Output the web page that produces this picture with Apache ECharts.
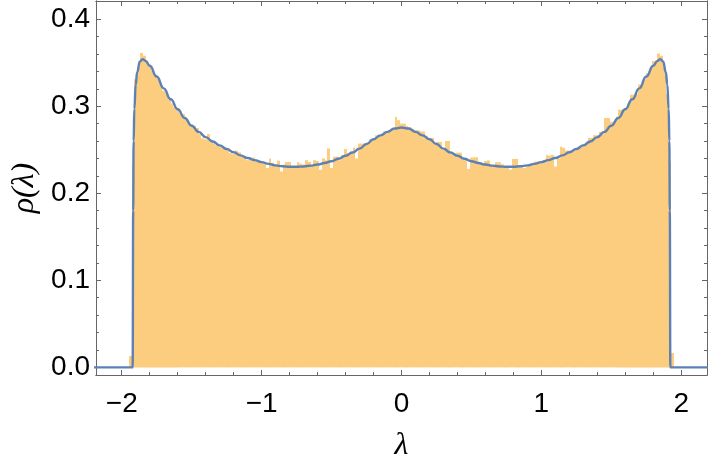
<!DOCTYPE html>
<html>
<head>
<meta charset="utf-8">
<script src="https://cdn.jsdelivr.net/npm/echarts@6.0.0/dist/echarts.min.js"></script>
<style>html,body{margin:0;padding:0;background:#fff}#c{width:710px;height:467px}</style>
</head>
<body>
<div id="c"></div>
<script>
// ---- data ----
const binStart = -1.95;
const binWidth = 0.02;
const histValues = [
  0.013, 0.235, 0.331, 0.345, 0.361, 0.358, 0.351, 0.348, 0.341, 0.336,
  0.332, 0.324, 0.318, 0.316, 0.307, 0.303, 0.299, 0.298, 0.292, 0.291,
  0.284, 0.281, 0.279, 0.277, 0.275, 0.268, 0.263, 0.262, 0.268, 0.259,
  0.257, 0.255, 0.254, 0.254, 0.251, 0.249, 0.246, 0.245, 0.249, 0.247,
  0.244, 0.242, 0.238, 0.241, 0.241, 0.237, 0.236, 0.236, 0.235, 0.229,
  0.240, 0.235, 0.233, 0.2375, 0.225, 0.233, 0.236, 0.236, 0.231, 0.229,
  0.2355, 0.234, 0.233, 0.238, 0.236, 0.231, 0.238, 0.237, 0.227, 0.240,
  0.238, 0.2515, 0.229, 0.242, 0.242, 0.238, 0.244, 0.2507, 0.246, 0.248,
  0.2526, 0.240, 0.257, 0.257, 0.256, 0.258, 0.262, 0.262, 0.2666, 0.2666,
  0.266, 0.271, 0.271, 0.272, 0.274, 0.2875, 0.284,
  0.280,
  0.280, 0.2773, 0.276, 0.274, 0.2723, 0.2723, 0.271, 0.271, 0.266, 0.2636,
  0.2636, 0.257, 0.259, 0.259, 0.250, 0.260, 0.260, 0.245, 0.246, 0.2466,
  0.2466, 0.239, 0.240, 0.228, 0.241, 0.2413, 0.2413, 0.235, 0.234, 0.237,
  0.2377, 0.233, 0.232, 0.2356, 0.2356, 0.2333, 0.229, 0.230, 0.227, 0.2394,
  0.2394, 0.230, 0.231, 0.229, 0.231, 0.232, 0.234, 0.2363, 0.2363, 0.236,
  0.238, 0.2439, 0.2432, 0.2439, 0.2307, 0.240, 0.2534, 0.2523, 0.249, 0.249,
  0.249, 0.2495, 0.252, 0.253, 0.256, 0.258, 0.2636, 0.2636, 0.2667, 0.2667,
  0.2705, 0.2705, 0.2864, 0.2864, 0.282, 0.282, 0.288, 0.2958, 0.2958, 0.298,
  0.303, 0.313, 0.313, 0.314, 0.325, 0.325, 0.331, 0.338, 0.343, 0.352,
  0.350, 0.3606, 0.358, 0.345, 0.314, 0.236, 0.0166
];
const curveX = [-2.33, -1.922, -1.918, -1.915, -1.91, -1.90, -1.89, -1.87, -1.85, -1.83, -1.80,
  -1.75, -1.70, -1.65, -1.60, -1.55, -1.50, -1.45, -1.40, -1.35, -1.30, -1.25, -1.20, -1.15, -1.10, -1.05, -1.00,
  -0.95, -0.90, -0.85, -0.80, -0.75, -0.70, -0.65, -0.60, -0.55, -0.50, -0.45, -0.40, -0.35, -0.30, -0.25, -0.20, -0.15, -0.10, -0.05,
  0,
  0.05, 0.10, 0.15, 0.20, 0.25, 0.30, 0.35, 0.40, 0.45, 0.50, 0.55, 0.60, 0.65, 0.70, 0.75, 0.80, 0.85, 0.90, 0.95,
  1.00, 1.05, 1.10, 1.15, 1.20, 1.25, 1.30, 1.35, 1.40, 1.45, 1.50, 1.55, 1.60, 1.65, 1.70, 1.75,
  1.80, 1.83, 1.85, 1.87, 1.89, 1.90, 1.91, 1.915, 1.918, 1.922, 2.19];
const curveY = [0, 0, 0.18, 0.26, 0.297, 0.325, 0.339, 0.3515, 0.354, 0.352, 0.3465,
  0.334, 0.3205, 0.308, 0.2965, 0.2865, 0.2775, 0.2705, 0.2645, 0.2595, 0.255, 0.2508, 0.247, 0.2435, 0.2405, 0.238, 0.2358,
  0.2337, 0.232, 0.231, 0.2305, 0.2304, 0.2308, 0.2317, 0.233, 0.2347, 0.2368, 0.2396, 0.243, 0.2468, 0.2512, 0.2565, 0.262, 0.2665, 0.2705, 0.2743,
  0.2755,
  0.2743, 0.2705, 0.2665, 0.262, 0.2565, 0.2512, 0.2468, 0.243, 0.2396, 0.2368, 0.2347, 0.233, 0.2317, 0.2308, 0.2304, 0.2305, 0.231, 0.232, 0.2337,
  0.2358, 0.238, 0.2405, 0.2435, 0.247, 0.2508, 0.255, 0.2595, 0.2645, 0.2705, 0.2775, 0.2865, 0.2965, 0.308, 0.3205, 0.334,
  0.3465, 0.352, 0.354, 0.3515, 0.339, 0.325, 0.297, 0.26, 0.18, 0, 0];
const xMajorTicks = [-2, -1, 0, 1, 2];
const xMinorTicks = [-2, -1.8, -1.6, -1.4, -1.2, -1, -0.8, -0.6, -0.4, -0.2, 0, 0.2, 0.4, 0.6, 0.8, 1, 1.2, 1.4, 1.6, 1.8, 2];
const yMajorTicks = [0, 0.1, 0.2, 0.3, 0.4];
const yMinorTicks = [0, 0.02, 0.04, 0.06, 0.08, 0.1, 0.12, 0.14, 0.16, 0.18, 0.2, 0.22, 0.24, 0.26, 0.28, 0.3, 0.32, 0.34, 0.36, 0.38, 0.4];

// ---- build ----
const histData = histValues.map((v, i) => [binStart + binWidth * (i + 0.5), v]);
const curveData = curveX.map((x, i) => [x, curveY[i]]);

const X_MIN = -2.184, X_MAX = 2.184, Y_MIN = -0.00875, Y_MAX = 0.4208;
const frameColor = '#666666';
const font = 'Liberation Sans, Arial, sans-serif';

function xAx(position, ticks, len, showLabel, extra) {
  return Object.assign({
    type: 'value', min: X_MIN, max: X_MAX, position: position,
    axisLine: { show: true, onZero: false, lineStyle: { color: frameColor, width: 1 } },
    axisTick: { show: true, inside: true, length: len, customValues: ticks, lineStyle: { color: frameColor, width: 1 } },
    axisLabel: showLabel ? {
      show: true, customValues: ticks, fontSize: 28, color: '#000', fontFamily: font, margin: 15,
      formatter: v => (v < 0 ? '\u2212' + Math.abs(v) : String(v))
    } : { show: false },
    splitLine: { show: false }
  }, extra || {});
}
function yAx(position, ticks, len, showLabel, extra) {
  return Object.assign({
    type: 'value', min: Y_MIN, max: Y_MAX, position: position,
    axisLine: { show: true, onZero: false, lineStyle: { color: frameColor, width: 1 } },
    axisTick: { show: true, inside: true, length: len, customValues: ticks, lineStyle: { color: frameColor, width: 1 } },
    axisLabel: showLabel ? {
      show: true, customValues: ticks, fontSize: 28, color: '#000', fontFamily: font, margin: 6,
      formatter: v => v.toFixed(1)
    } : { show: false },
    splitLine: { show: false }
  }, extra || {});
}

const chart = echarts.init(document.getElementById('c'), null, { renderer: 'canvas' });
chart.setOption({
  animation: false,
  backgroundColor: '#fff',
  grid: { left: 96, right: 3, top: 1, bottom: 88, containLabel: false },
  xAxis: [
    xAx('bottom', xMajorTicks, 5, true, {
      name: '\u03bb', nameLocation: 'middle', nameGap: 55,
      nameTextStyle: { fontSize: 32, fontStyle: 'italic', fontFamily: 'Liberation Serif, serif', color: '#000' }
    }),
    xAx('bottom', xMinorTicks, 3, false),
    xAx('top', xMajorTicks, 5, false),
    xAx('top', xMinorTicks, 3, false)
  ],
  yAxis: [
    yAx('left', yMajorTicks, 5, true, {
      name: '\u03c1(\u03bb)', nameLocation: 'middle', nameGap: 53, nameRotate: 90,
      nameTextStyle: { fontSize: 32, fontStyle: 'italic', fontFamily: 'Liberation Serif, serif', color: '#000' }
    }),
    yAx('left', yMinorTicks, 3, false),
    yAx('right', yMajorTicks, 5, false),
    yAx('right', yMinorTicks, 3, false)
  ],
  series: [
    {
      type: 'custom', xAxisIndex: 0, yAxisIndex: 0, data: histData,
      renderItem: function (params, api) {
        const c = api.value(0), h = api.value(1);
        const p0 = api.coord([c - binWidth / 2, 0]);
        const p1 = api.coord([c + binWidth / 2, h]);
        const x0 = Math.round(p0[0]), x1 = Math.round(p1[0]);
        return {
          type: 'rect',
          shape: { x: x0, y: p1[1], width: Math.max(1, x1 - x0), height: p0[1] - p1[1] },
          style: { fill: '#FCCD7E' }
        };
      },
      clip: true
    },
    {
      type: 'line', xAxisIndex: 0, yAxisIndex: 0, data: curveData, z: 5,
      showSymbol: false, symbol: 'none', smooth: true, smoothMonotone: 'x', clip: false,
      lineStyle: { color: '#5E81B5', width: 2.4 }
    }
  ]
});
</script>
</body>
</html>
